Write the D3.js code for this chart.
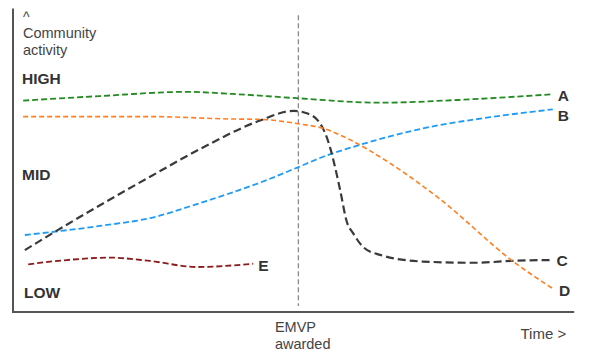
<!DOCTYPE html>
<html><head><meta charset="utf-8">
<script src="https://cdn.jsdelivr.net/npm/d3@7"></script>
<style>body{margin:0;background:#fff}svg{display:block}</style>
</head><body>
<script>
// ---- data (x: time 0-100, y: community activity 0-100) ----
const seriesNames = ["A","B","C","D","E"];
const aX = [1.8, 15.4, 30.8, 39.0, 50.3, 65.1, 78.7, 95.7];
const aY = [70.0, 71.5, 72.9, 72.2, 70.8, 69.3, 70.2, 72.1];
const bX = [2.1, 15.4, 24.3, 33.2, 45.0, 50.5, 55.0, 60.9, 72.7, 84.6, 95.7];
const bY = [25.5, 28.5, 31.1, 36.1, 43.7, 47.9, 51.4, 55.0, 60.8, 64.5, 67.1];
const cX = [2.1, 8.0, 24.3, 33.2, 43.8, 49.7, 52.1, 54.4, 56.2, 57.1, 58.0, 59.2, 60.3, 62.1, 65.1, 72.7, 81.6, 89.3, 95.5];
const cY = [20.5, 27.2, 44.8, 54.0, 63.4, 66.6, 65.8, 62.6, 54.6, 48.0, 40.4, 29.8, 26.1, 21.5, 18.9, 16.7, 16.3, 17.0, 17.2];
const dX = [1.8, 24.3, 39.0, 43.8, 50.3, 55.0, 59.8, 66.8, 75.7, 88.7, 95.9];
const dY = [64.7, 64.7, 63.9, 63.8, 62.4, 60.8, 57.0, 49.3, 37.4, 16.7, 7.5];
const eX = [2.7, 9.5, 17.2, 24.3, 32.6, 42.6];
const eY = [15.8, 17.2, 18.0, 16.9, 14.9, 16.0];
const levelLabels = ["HIGH","MID","LOW"];
const levelValues = [77.5, 45.5, 6.6];
const eventTime = 50.6;
const eventLabel = ["EMVP","awarded"];
const yTitle = ["Community","activity"];
const xTitle = "Time >";

const W = 590, H = 355;
const x = d3.scaleLinear().domain([0,100]).range([13,577]);
const y = d3.scaleLinear().domain([0,100]).range([312,10]);

const svg = d3.select("body").append("svg").attr("width",W).attr("height",H)
  .style("font-family","'Liberation Sans', Arial, sans-serif");

const styles = {
  A:{color:"#228b22", dash:"6,3", w:1.8},
  B:{color:"#1e9bf5", dash:"6,3", w:1.8},
  C:{color:"#3a3a3a", dash:"8,4", w:2.2},
  D:{color:"#ff7f1e", dash:"5,3", w:1.6},
  E:{color:"#8b1a1a", dash:"6,3", w:1.8}
};
const series = [
  {name:"A", xs:aX, ys:aY},
  {name:"B", xs:bX, ys:bY},
  {name:"C", xs:cX, ys:cY},
  {name:"D", xs:dX, ys:dY},
  {name:"E", xs:eX, ys:eY}
];

// axes
svg.append("line").attr("x1",x(0)).attr("x2",x(0)).attr("y1",y(100)-1.5).attr("y2",y(0)+1)
  .attr("stroke","#555").attr("stroke-width",2);
svg.append("line").attr("x1",x(0)-1).attr("x2",x(99.5)).attr("y1",y(0)).attr("y2",y(0))
  .attr("stroke","#555").attr("stroke-width",2);

// event line
svg.append("line").attr("x1",x(eventTime)).attr("x2",x(eventTime))
  .attr("y1",y(98.3)).attr("y2",y(2))
  .attr("stroke","#8a8a8a").attr("stroke-width",1.3).attr("stroke-dasharray","5,3");

// lines
const line = d3.line().curve(d3.curveMonotoneX).x(d=>x(d[0])).y(d=>y(d[1]));
series.forEach(s=>{
  const pts = s.xs.map((v,i)=>[v,s.ys[i]]);
  const st = styles[s.name];
  svg.append("path").datum(pts).attr("d",line).attr("fill","none")
    .attr("stroke",st.color).attr("stroke-width",st.w).attr("stroke-dasharray",st.dash);
});

// series labels
const labelDy = {A:1, B:6, C:0.5, D:1, E:1.5};
series.forEach(s=>{
  const n = s.xs.length;
  svg.append("text").attr("x",x(s.xs[n-1])+5).attr("y",y(s.ys[n-1])+labelDy[s.name])
    .attr("dy","0.36em").attr("font-size",15.5).attr("font-weight","bold").attr("fill","#333")
    .text(s.name);
});

// level labels
levelLabels.forEach((t,i)=>{
  svg.append("text").attr("x", t==="LOW"?24:22).attr("y",y(levelValues[i])).attr("dy","0.36em")
    .attr("font-size",15.5).attr("font-weight","bold").attr("fill","#333").text(t);
});

// y title
svg.append("text").attr("x",23).attr("y",21.5).attr("font-size",14).attr("fill","#444").text("^");
yTitle.forEach((t,i)=>{
  svg.append("text").attr("x",23).attr("y",37.5+i*17.5).attr("font-size",14.5).attr("fill","#444").text(t);
});

// event label
eventLabel.forEach((t,i)=>{
  svg.append("text").attr("x",x(eventTime)-23.5).attr("y",332+i*16.5).attr("font-size",14.5)
    .attr("fill","#444").text(t);
});

// x title
svg.append("text").attr("x",520.5).attr("y",339).attr("font-size",15).attr("fill","#444").text(xTitle);
</script>
</body></html>
